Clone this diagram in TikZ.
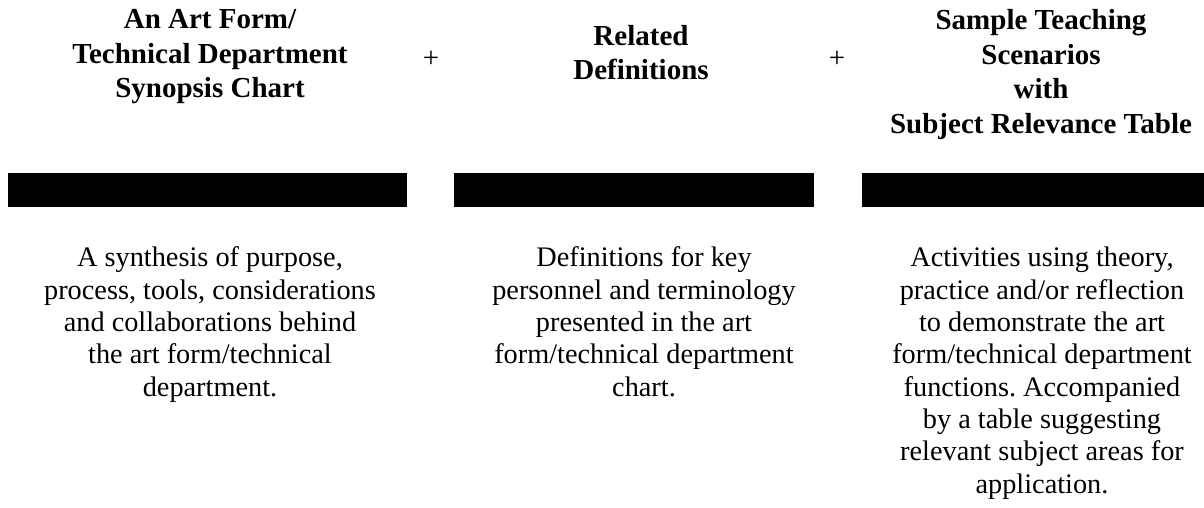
\documentclass[tikz,border=0pt]{standalone}
\usepackage{fontspec}
\setmainfont{Liberation Serif}
\frenchspacing

\begin{document}
\begin{tikzpicture}[x=1pt, y=-1pt,
	head/.style={align=center, inner sep=0pt, anchor=base, font=\fontsize{29}{34.5}\selectfont\bfseries},
	body/.style={align=center, inner sep=0pt, anchor=base, font=\fontsize{28.3}{32.3}\selectfont},
	plus/.style={inner sep=0pt, font=\fontsize{29}{30}\selectfont},
	bar/.style={fill=black}]
	\useasboundingbox (0,0) rectangle (1204,508);

	% headings (anchored at the last line)
	\node[head] (hchart) at (210,98) {An Art Form/\\Technical Department\\Synopsis Chart};
	\node[head] (hdefs) at (641,80) {Related\\Definitions};
	\node[head] (hscen) at (1041,133) {Sample Teaching\\Scenarios\\with\\Subject Relevance Table};

	\node[plus] (plusa) at (431,59.5) {+};
	\node[plus] (plusb) at (837,59.5) {+};

	% bars
	\fill[bar] (8,173) rectangle (407,207);
	\fill[bar] (454,173) rectangle (814,207);
	\fill[bar] (862,173) rectangle (1204,207);

	% descriptions
	\node[body] (dchart) at (210,396) {A synthesis of purpose,\\process, tools, considerations\\and collaborations behind\\the art form/technical\\department.};
	\node[body] (ddefs) at (644,396) {Definitions for key\\personnel and terminology\\presented in the art\\form/technical department\\chart.};
	\node[body] (dscen) at (1042,493) {Activities using theory,\\practice and/or reflection\\to demonstrate the art\\form/technical department\\functions. Accompanied\\by a table suggesting\\relevant subject areas for\\application.};
\end{tikzpicture}
\end{document}
